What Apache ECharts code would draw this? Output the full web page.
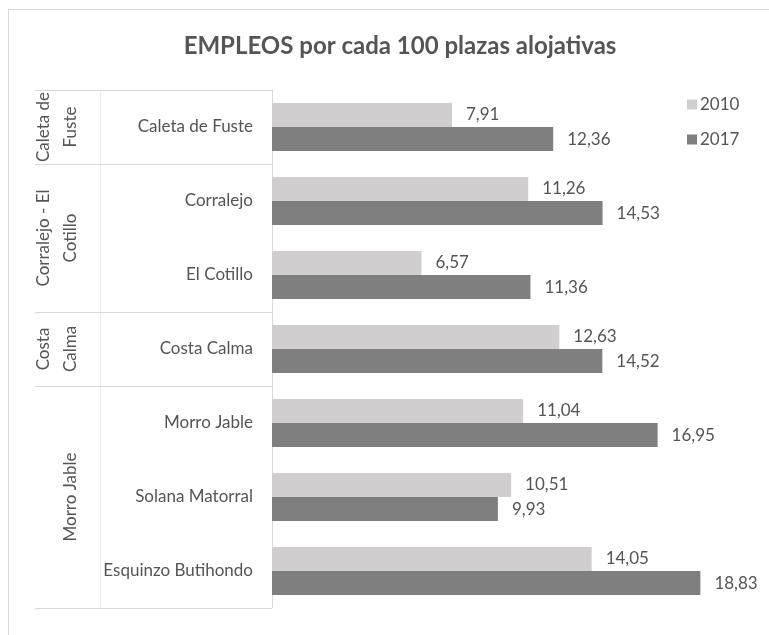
<!DOCTYPE html>
<html>
<head>
<meta charset="utf-8">
<script src="https://cdn.jsdelivr.net/npm/echarts@6/dist/echarts.min.js"></script>
<style>
html,body{margin:0;padding:0;background:#fff;}
#main{width:769px;height:635px;}
</style>
</head>
<body>
<div id="main"></div>
<script>
var categories = ['Caleta de Fuste', 'Corralejo', 'El Cotillo', 'Costa Calma', 'Morro Jable', 'Solana Matorral', 'Esquinzo Butihondo'];
var values2010 = [7.91, 11.26, 6.57, 12.63, 11.04, 10.51, 14.05];
var values2017 = [12.36, 14.53, 11.36, 14.52, 16.95, 9.93, 18.83];
var groupLabels = ['Caleta de\nFuste', 'Corralejo - El\nCotillo', 'Costa\nCalma', 'Morro Jable'];
var groupSizes = [1, 2, 1, 3];
var seriesNames = ['2010', '2017'];

var FONT = 'Lato';
var TXT = '#555555';
var LINE = '#d9d9d9';

var chart = echarts.init(document.getElementById('main'));

function fmt(p) { return p.value.toFixed(2).replace('.', ','); }

var option = {
  animation: false,
  backgroundColor: '#fff',
  textStyle: { fontFamily: FONT },
  title: {
    text: 'EMPLEOS por cada 100 plazas alojativas',
    left: 395, top: 29, textAlign: 'center',
    textStyle: { fontFamily: FONT, fontWeight: 'bold', fontSize: 24, color: TXT }
  },
  legend: {
    orient: 'vertical', left: 682, top: 91,
    itemWidth: 10, itemHeight: 10, itemGap: 18,
    icon: 'rect',
    textStyle: { fontFamily: FONT, fontSize: 17, color: TXT, padding: [0, 0, 0, -2] },
    data: seriesNames
  },
  grid: { left: 272, top: 90, bottom: 27, right: 42, containLabel: false },
  xAxis: {
    type: 'value', min: 0, max: 20, show: false
  },
  yAxis: {
    type: 'category', inverse: true, data: categories,
    axisLine: { show: true, lineStyle: { color: LINE, width: 1 } },
    axisTick: { show: false },
    axisLabel: { fontFamily: FONT, fontSize: 17, color: TXT, margin: 19 }
  },
  series: [
    {
      name: seriesNames[0], type: 'bar', data: values2010,
      barGap: '0%', barCategoryGap: '35%',
      itemStyle: { color: '#d0cece' },
      label: { show: true, position: 'right', distance: 14, formatter: fmt, fontFamily: FONT, fontSize: 17, color: TXT }
    },
    {
      name: seriesNames[1], type: 'bar', data: values2017,
      barGap: '0%', barCategoryGap: '35%',
      itemStyle: { color: '#7f7f7f' },
      label: { show: true, position: 'right', distance: 14, formatter: fmt, fontFamily: FONT, fontSize: 17, color: TXT }
    }
  ]
};
chart.setOption(option);

function drawGroups() {
  var c0 = chart.convertToPixel({ yAxisIndex: 0 }, 0);
  var c1 = chart.convertToPixel({ yAxisIndex: 0 }, 1);
  var band = c1 - c0;
  var axisX = chart.convertToPixel({ xAxisIndex: 0 }, 0);
  var top = c0 - band / 2;
  var bottom = chart.convertToPixel({ yAxisIndex: 0 }, categories.length - 1) + band / 2;
  var els = [];
  els.push({ type: 'rect', shape: { x: 8.5, y: 9.5, width: 800, height: 700 }, style: { fill: null, stroke: LINE, lineWidth: 1 }, silent: true, z: -1 });
  els.push({ type: 'line', shape: { x1: 100.5, y1: top, x2: 100.5, y2: bottom }, style: { stroke: '#ededed', lineWidth: 1 }, silent: true });
  els.push({ type: 'line', shape: { x1: 35, y1: Math.round(top) + 0.5, x2: axisX, y2: Math.round(top) + 0.5 }, style: { stroke: LINE, lineWidth: 1 }, silent: true });
  var idx = 0;
  for (var g = 0; g < groupSizes.length; g++) {
    var start = chart.convertToPixel({ yAxisIndex: 0 }, idx) - band / 2;
    idx += groupSizes[g];
    var end = chart.convertToPixel({ yAxisIndex: 0 }, idx - 1) + band / 2;
    var yl = Math.round(end) + 0.5;
    els.push({ type: 'line', shape: { x1: 35, y1: yl, x2: axisX, y2: yl }, style: { stroke: LINE, lineWidth: 1 }, silent: true });
    els.push({
      type: 'text', x: 84, y: (start + end) / 2, rotation: Math.PI / 2, silent: true,
      style: { text: groupLabels[g], fontFamily: FONT, fontSize: 17, fill: TXT, align: 'center', verticalAlign: 'bottom', lineHeight: 27 }
    });
  }
  chart.setOption({ graphic: els });
}
drawGroups();
</script>
</body>
</html>
